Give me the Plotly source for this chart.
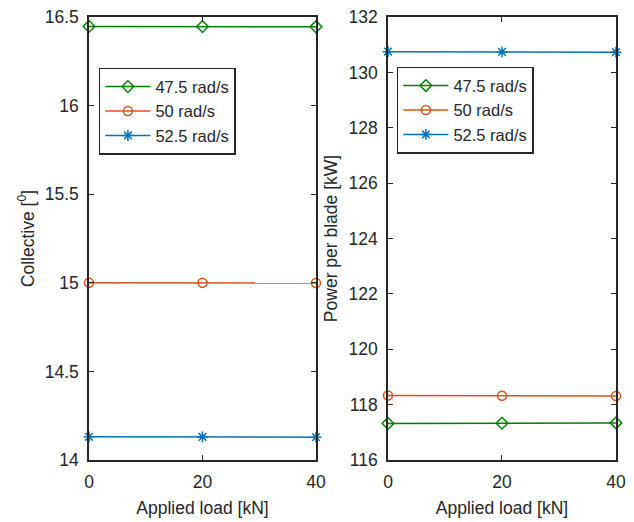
import plotly.graph_objects as go

load_kN = [0, 20, 40]
series_names = ["47.5 rad/s", "50 rad/s", "52.5 rad/s"]
collective_deg = {
    "47.5 rad/s": [16.447, 16.446, 16.445],
    "50 rad/s": [15.0, 15.0, 14.999],
    "52.5 rad/s": [14.131, 14.130, 14.129],
}
power_kW = {
    "47.5 rad/s": [117.32, 117.33, 117.34],
    "50 rad/s": [118.33, 118.32, 118.31],
    "52.5 rad/s": [130.75, 130.74, 130.73],
}
colors = {"47.5 rad/s": "#008000", "50 rad/s": "#D95319", "52.5 rad/s": "#0072BD"}
symbols = {"47.5 rad/s": "diamond-open", "50 rad/s": "circle-open", "52.5 rad/s": "asterisk-open"}

FONT = "Liberation Sans, Arial"
fig = go.Figure()
for name in series_names:
    fig.add_trace(go.Scatter(
        x=load_kN, y=collective_deg[name], name=name, mode="lines+markers",
        line=dict(color=colors[name], width=1.5),
        marker=dict(symbol=symbols[name], size=9, color=colors[name], line=dict(width=1.5, color=colors[name])),
        xaxis="x", yaxis="y", legend="legend", cliponaxis=False))
for name in series_names:
    fig.add_trace(go.Scatter(
        x=load_kN, y=power_kW[name], name=name, mode="lines+markers",
        line=dict(color=colors[name], width=1.5),
        marker=dict(symbol=symbols[name], size=9, color=colors[name], line=dict(width=1.5, color=colors[name])),
        xaxis="x2", yaxis="y2", legend="legend2", cliponaxis=False))

ax_common = dict(showline=True, linecolor="#262626", linewidth=1.5, mirror="ticks",
                 ticks="inside", ticklen=5, tickwidth=1, tickcolor="#262626",
                 showgrid=False, zeroline=False, ticklabelstandoff=5, automargin=False,
                 tickfont=dict(family=FONT, size=17.5, color="#262626"))
title_font = dict(family=FONT, size=17.5, color="#262626")
leg_font = dict(family=FONT, size=16.5, color="#262626")

fig.update_layout(
    width=634, height=522, margin=dict(l=0, r=0, t=0, b=0, autoexpand=False),
    paper_bgcolor="white", plot_bgcolor="white",
    xaxis=dict(domain=[0.1404, 0.4984], range=[0, 40], tickvals=[0, 20, 40], anchor="y",
               title=dict(text="Applied load [kN]", font=title_font, standoff=11), **ax_common),
    yaxis=dict(domain=[0.1188, 0.9674], range=[14, 16.5], tickvals=[14, 14.5, 15, 15.5, 16, 16.5],
               ticktext=["14", "14.5", "15", "15.5", "16", "16.5"], anchor="x",
               title=dict(text="Collective [<sup>0</sup>]", font=title_font, standoff=6), **ax_common),
    xaxis2=dict(domain=[0.612, 0.9716], range=[0, 40], tickvals=[0, 20, 40], anchor="y2",
                title=dict(text="Applied load [kN]", font=title_font, standoff=11), **ax_common),
    yaxis2=dict(domain=[0.1188, 0.9674], range=[116, 132], tickvals=list(range(116, 133, 2)), anchor="x2",
                title=dict(text="Power per blade [kW]", font=title_font, standoff=6), **ax_common),
    legend=dict(x=0.156, y=0.870, xanchor="left", yanchor="top", bgcolor="white",
                bordercolor="#262626", borderwidth=1.5, tracegroupgap=0, itemwidth=45,
                font=leg_font),
    legend2=dict(x=0.626, y=0.872, xanchor="left", yanchor="top", bgcolor="white",
                 bordercolor="#262626", borderwidth=1.5, tracegroupgap=0, itemwidth=45,
                 font=leg_font),
)

fig.write_html("out.html")
